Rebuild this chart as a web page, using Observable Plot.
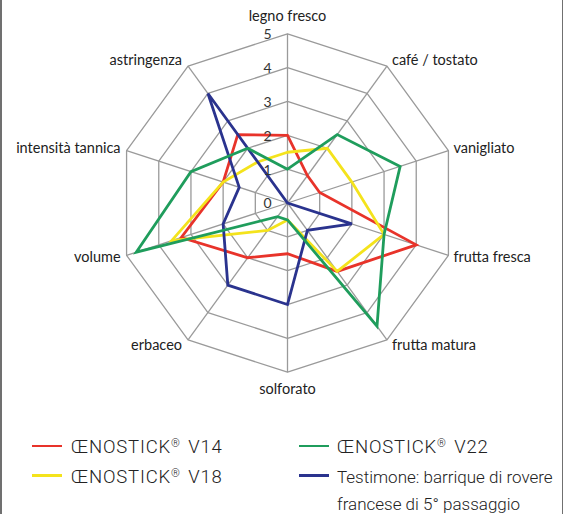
<!DOCTYPE html>
<html>
<head>
<meta charset="utf-8">
<script src="https://cdn.jsdelivr.net/npm/d3@7"></script>
<script src="https://cdn.jsdelivr.net/npm/@observablehq/plot@0.6"></script>
<style>
  html, body { margin: 0; padding: 0; background: #fff; }
  #wrap { position: relative; width: 571px; height: 514px; overflow: hidden; background: #fff; }
  #wrap .border { position: absolute; top: 0; bottom: 0; width: 1.5px; background: #707070; }
  .leg-line { position: absolute; height: 2.5px; width: 30px; }
  .leg-text { position: absolute; font-family: Roboto, "Open Sans", sans-serif; font-weight: 300; font-size: 17px; color: #222; line-height: 1; transform: translateY(-50%); white-space: nowrap; }
  .leg-text.wide { font-size: 18.5px; letter-spacing: 0.8px; }
  .leg-text .reg { font-size: 0.6em; vertical-align: 0.55em; letter-spacing: 0; margin-right: 3px; }
</style>
</head>
<body>
<div id="wrap"></div>
<script>
// ---- data ----
const axes = ["legno fresco", "café / tostato", "vanigliato", "frutta fresca", "frutta matura",
              "solforato", "erbaceo", "volume", "intensità tannica", "astringenza"];
const seriesNames = ["ŒNOSTICK® V14", "ŒNOSTICK® V18", "ŒNOSTICK® V22", "Testimone: barrique di rovere francese di 5° passaggio"];
const v14 = [2, 1, 1, 4, 2.5, 1.5, 2, 3.3, 2, 2.5];
const v18 = [1.5, 2, 2, 3, 2.5, 0.5, 1, 3.6, 2, 1.5];
const v22 = [1, 2.5, 3.5, 3, 4.5, 0.5, 0.5, 4.7, 3, 2];
const testimone = [0, 0, 0, 2, 1, 3, 3, 2, 1.5, 4];
const levels = [1, 2, 3, 4, 5];
const tickLabels = ["0", "1", "2", "3", "4", "5"];
const colors = ["#e8332a", "#f4e31c", "#1f9d5c", "#2a338e"];

// ---- geometry helpers ----
const W = 571, H = 430;
const cx = 287, cy = 202.5, k = 33.84; // pixels per unit
const n = axes.length;
const ang = i => i * 2 * Math.PI / n;
const px = (v, i) => v * Math.sin(ang(i));
const py = (v, i) => v * Math.cos(ang(i));

// grid rings
const ringData = [];
levels.forEach(l => {
  for (let i = 0; i <= n; i++) ringData.push({level: l, x: px(l, i % n), y: py(l, i % n)});
});
// spokes
const spokeData = axes.map((a, i) => ({x1: 0, y1: 0, x2: px(5, i), y2: py(5, i)}));

// series polygons
const allSeries = [v14, v18, testimone, v22];
const allNames = [seriesNames[0], seriesNames[1], seriesNames[3], seriesNames[2]];
const lineData = [];
allSeries.forEach((vals, s) => {
  for (let i = 0; i <= n; i++) lineData.push({series: allNames[s], x: px(vals[i % n], i % n), y: py(vals[i % n], i % n)});
});

// axis labels: anchored just outside the outer ring vertex (offsets in px converted to units)
const labelData = axes.map((a, i) => {
  const s = Math.sin(ang(i)), c = Math.cos(ang(i));
  const side = Math.abs(s) > 0.1;
  const dxp = side ? (s > 0 ? 5 : -6) : 0;
  const dyp = side ? -c * 7 : (c > 0 ? -17 : 17);
  return {
    label: a,
    x: px(5, i) + dxp / k,
    y: py(5, i) - dyp / k,
    anchor: side ? (s > 0 ? "start" : "end") : "middle"
  };
});
const tickData = tickLabels.map((t, i) => ({t, x: 0, y: i}));

const chart = Plot.plot({
  width: W, height: H,
  marginLeft: 0, marginRight: 0, marginTop: 0, marginBottom: 0,
  x: {domain: [-cx / k, (W - cx) / k], axis: null},
  y: {domain: [-(H - cy) / k, cy / k], axis: null},
  color: {domain: seriesNames, range: colors},
  style: {background: "transparent"},
  marks: [
    Plot.line(ringData, {x: "x", y: "y", z: "level", stroke: "#9a9a9a", strokeWidth: 1.3}),
    Plot.link(spokeData, {x1: "x1", y1: "y1", x2: "x2", y2: "y2", stroke: "#9a9a9a", strokeWidth: 1.3}),
    Plot.line(lineData, {x: "x", y: "y", z: "series", stroke: "series", strokeWidth: 2.8, strokeLinejoin: "miter", strokeMiterlimit: 4}),
    Plot.text(tickData, {x: "x", y: "y", text: "t", dx: -20, dy: 1, fontSize: 14, fill: "#333", fontFamily: "Lato, 'Open Sans', sans-serif"}),
    ...["start", "middle", "end"].map(an =>
      Plot.text(labelData.filter(d => d.anchor === an), {
        x: "x", y: "y", text: "label", textAnchor: an,
        fontSize: 14.5, fill: "#222", fontFamily: "Lato, 'Open Sans', sans-serif"
      })
    )
  ]
});
const wrap = document.getElementById("wrap");
chart.style.position = "absolute";
chart.style.left = "0px";
chart.style.top = "0px";
wrap.appendChild(chart);

// border lines
const bl = document.createElement("div"); bl.className = "border"; bl.style.left = "0px"; wrap.appendChild(bl);
const br = document.createElement("div"); br.className = "border"; br.style.left = "561.5px"; wrap.appendChild(br);

// legend
const legendItems = [
  {name: seriesNames[0], color: colors[0], lx: 32, tx: 71, y: 446},
  {name: seriesNames[1], color: colors[1], lx: 32, tx: 71, y: 475.5},
  {name: seriesNames[2], color: colors[2], lx: 299, tx: 337, y: 446},
  {name: seriesNames[3], color: colors[3], lx: 299, tx: 337, y: 475.5}
];
legendItems.forEach(it => {
  const ln = document.createElement("div");
  ln.className = "leg-line";
  ln.style.left = it.lx + "px"; ln.style.top = (it.y - 1.25) + "px"; ln.style.background = it.color;
  wrap.appendChild(ln);
  const isTest = it.name.startsWith("Testimone");
  const parts = isTest ? ["Testimone: barrique di rovere", "francese di 5° passaggio"] : [it.name];
  parts.forEach((p, j) => {
    const tx = document.createElement("div");
    tx.className = "leg-text" + (isTest ? "" : " wide");
    tx.style.left = it.tx + "px";
    tx.style.top = (it.y + 1 + j * 27.5) + "px";
    tx.innerHTML = p.replace("®", '<span class="reg">®</span>');
    wrap.appendChild(tx);
  });
});
</script>
</body>
</html>
